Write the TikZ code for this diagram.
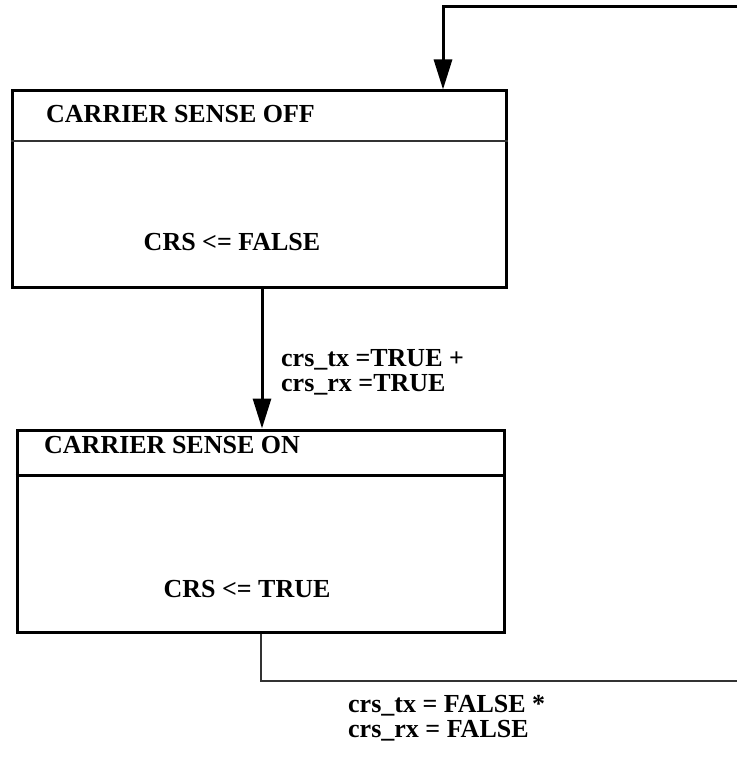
\documentclass[tikz,border=0pt]{standalone}
\usepackage{fontspec}
\setmainfont{Liberation Serif}
\usetikzlibrary{arrows.meta}

\begin{document}
\begin{tikzpicture}[x=1pt,y=-1pt,
  state/.style={draw, line width=3pt, inner sep=0pt},
  txt/.style={inner sep=0pt, font=\fontsize{26}{25.5}\selectfont\bfseries, align=left},
  flow/.style={line width=3pt, -{Triangle[length=30pt,width=18pt]}},
  divider/.style={line width=2pt, black!80}]
\useasboundingbox (0,0) rectangle (737,757);
\node [state, minimum width=494pt, minimum height=196pt] (off) at (259,189) {};
\node [state, minimum width=487pt, minimum height=202pt] (on) at (260.5,531) {};
\draw [divider] (off.north west) ++(0,51) coordinate (offl) -- (offl -| off.east);
\draw [line width=3pt] (on.north west) ++(0,47) coordinate (onl) -- (onl -| on.east);
\node [txt, anchor=west] (offname) at (46,114) {CARRIER SENSE OFF};
\node [txt] (offact) at (232,242) {CRS <= FALSE};
\node [txt, anchor=west] (onname) at (44,445) {CARRIER SENSE ON};
\node [txt] (onact) at (247,589) {CRS <= TRUE};
\coordinate (back) at (737,7);
\coordinate (leave) at (737,681);
\draw [flow] (back) -| ([xshift=184pt]off.north);
\draw [flow] ([xshift=3pt]off.south) -- ([xshift=3pt]off.south |- on.north);
\node [txt, anchor=west] (upcond) at (281,372.5) {crs\_tx =TRUE +\\crs\_rx =TRUE};
\draw [divider] (on.south) |- (leave);
\node [txt, anchor=west] (downcond) at (348,718) {crs\_tx = FALSE *\\crs\_rx = FALSE};
\end{tikzpicture}
\end{document}
